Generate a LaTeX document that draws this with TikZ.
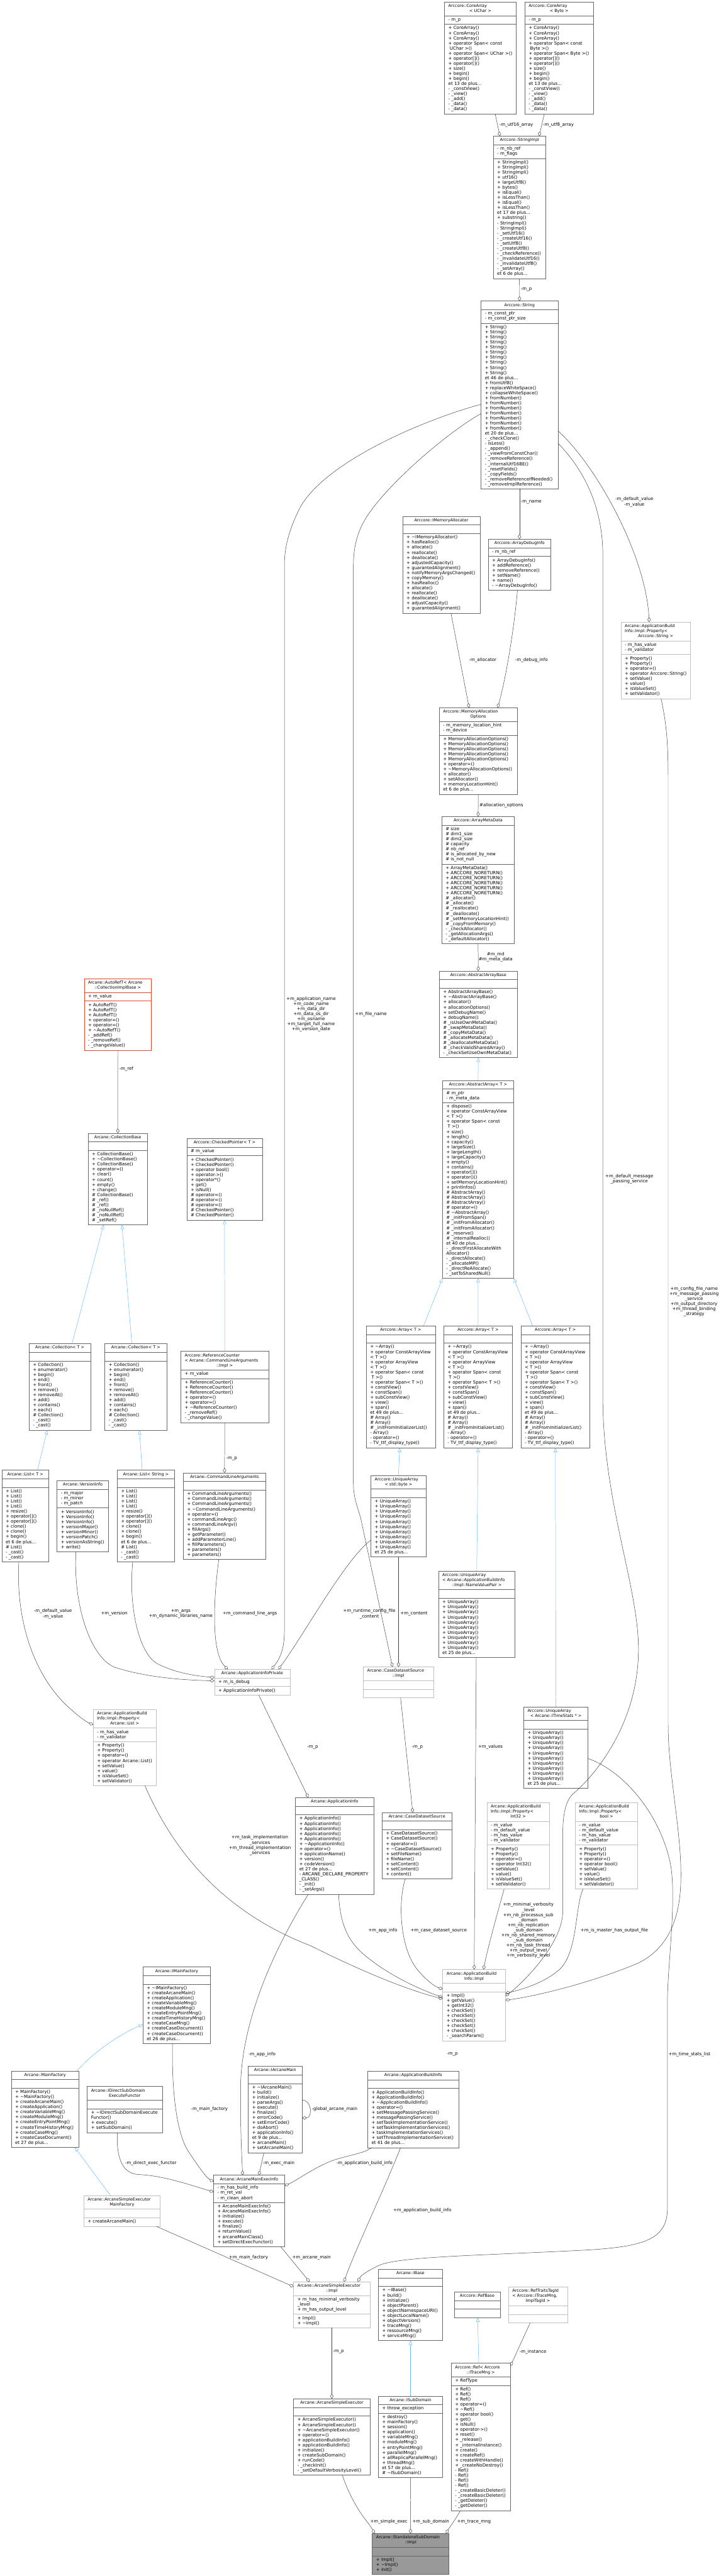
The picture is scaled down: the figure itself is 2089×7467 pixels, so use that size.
\documentclass[tikz,border=0pt]{standalone}
\usepackage{fontspec}
\setmainfont{DejaVu Sans}
\usetikzlibrary{arrows.meta,fit,calc}
\definecolor{edgegray}{HTML}{404040}
\definecolor{inhblue}{HTML}{63B8FF}
\definecolor{bdark}{HTML}{666666}
\definecolor{blight}{HTML}{BFBFBF}
\definecolor{bred}{HTML}{EE4422}
\definecolor{mainfill}{HTML}{999999}
\newlength\umlW
\newcommand\mfont{\fontsize{12.8}{14.68}\selectfont}
\newcommand\tfont{\fontsize{11.8}{14.68}\selectfont}
\newcommand\mL[1]{\hbox to \umlW{\strut#1\hfil}}
\newcommand\mC[1]{\hbox to \umlW{\hfil\strut#1\hfil}}
\newcommand\mE{\hbox to \umlW{\strut\hfil}}
\newcommand\tld{\textasciitilde}
\newcount\umlcnt
\newcommand\mR[2]{\umlcnt=#1\relax\loop\ifnum\umlcnt>0 \mL{#2}\advance\umlcnt by -1 \repeat}
\tikzset{
  umlpart/.style={draw, fill=white, line width=1pt, inner xsep=11.3pt, inner ysep=5.15pt, outer sep=0pt, font=\mfont, text=black},
  cdark/.style={draw=bdark},
  clight/.style={draw=blight},
  cred/.style={draw=bred},
  cmain/.style={draw=bdark, fill=mainfill},
  agg/.style={draw=edgegray, line width=0.9pt, -{Diamond[open,length=14pt,width=9.5pt,line width=0.9pt]}},
  inh/.style={draw=inhblue, line width=0.9pt, -{Triangle[open,length=12pt,width=10pt,line width=0.9pt]}},
  lbl/.style={font=\mfont, inner sep=0pt, align=center, text=black}
}
\newcommand\umlclass[8]{%
  \pgfmathsetlength{\umlW}{#4-22.6}%
  \node[umlpart,#5,font=\tfont,anchor=north west] (#1-t) at (#2,#3) {\vbox{\lineskiplimit=-100pt #6}};
  \node[umlpart,#5,anchor=north west] (#1-a) at (#1-t.south west) {\vbox{\lineskiplimit=-100pt #7}};
  \node[umlpart,#5,anchor=north west] (#1-m) at (#1-a.south west) {\vbox{\lineskiplimit=-100pt #8}};
  \node[fit=(#1-t)(#1-m),inner sep=0pt,outer sep=0pt] (#1) {};
}
\newcommand\corearrM[1]{\mR{3}{+ CoreArray()}\mL{+ operator Span< const}\mL{\ #1 >()}\mL{+ operator Span< #1 >()}\mR{2}{+ operator[]()}\mL{+ size()}\mR{2}{+ begin()}\mL{et 13 de plus...}\mL{- \_constView()}\mL{- \_view()}\mL{- \_add()}\mR{2}{- \_data()}}
\newcommand\arrayM{\mL{+ \tld Array()}\mL{+ operator ConstArrayView}\mL{< T >()}\mL{+ operator ArrayView}\mL{< T >()}\mL{+ operator Span< const}\mL{\ T >()}\mL{+ operator Span< T >()}\mL{+ constView()}\mL{+ constSpan()}\mL{+ subConstView()}\mL{+ view()}\mL{+ span()}\mL{et 49 de plus...}\mR{2}{\# Array()}\mL{\# \_initFromInitializerList()}\mL{- Array()}\mL{- operator=()}\mL{- TV\_ttf\_display\_type()}}
\newcommand\collM{\mL{+ Collection()}\mL{+ enumerator()}\mL{+ begin()}\mL{+ end()}\mL{+ front()}\mL{+ remove()}\mL{+ removeAt()}\mL{+ add()}\mL{+ contains()}\mL{+ each()}\mL{\# Collection()}\mR{2}{- \_cast()}}
\newcommand\listM{\mR{4}{+ List()}\mL{+ resize()}\mR{2}{+ operator[]()}\mR{2}{+ clone()}\mL{+ begin()}\mL{et 6 de plus...}\mL{\# List()}\mR{2}{- \_cast()}}
\newcommand\uaM{\mR{10}{+ UniqueArray()}\mL{et 25 de plus...}}
\newcommand\propM[1]{\mR{2}{+ Property()}\mL{+ operator=()}\mL{+ operator #1()}\mL{+ setValue()}\mL{+ value()}\mL{+ isValueSet()}\mL{+ setValidator()}}
\newcommand\propT[1]{\mL{Arcane::ApplicationBuild}\mL{Info::Impl::Property<}\mC{#1 >}}
\begin{document}
\begin{tikzpicture}[x=1pt,y=-1pt]
\path[use as bounding box, fill=white] (0,0) rectangle (2089,7467);

% ---------------- classes ----------------
\umlclass{cau}{1288}{5.6}{208}{cdark}{\mL{Arccore::CoreArray}\mC{< UChar >}}{\mL{- m\_p}}{\corearrM{UChar}}
\umlclass{cab}{1520.7}{5.6}{198.7}{cdark}{\mL{Arccore::CoreArray}\mC{< Byte >}}{\mL{- m\_p}}{\corearrM{Byte}}
\umlclass{simpl}{1429.3}{394.6}{152}{cdark}{\mC{Arccore::StringImpl}}{\mL{- m\_nb\_ref}\mL{- m\_flags}}{\mR{3}{+ StringImpl()}\mL{+ utf16()}\mL{+ largeUtf8()}\mL{+ bytes()}\mL{+ isEqual()}\mL{+ isLessThan()}\mL{+ isEqual()}\mL{+ isLessThan()}\mL{et 17 de plus...}\mL{+ substring()}\mR{2}{- StringImpl()}\mL{- \_setUtf16()}\mL{- \_createUtf16()}\mL{- \_setUtf8()}\mL{- \_createUtf8()}\mL{- \_checkReference()}\mL{- \_invalidateUtf16()}\mL{- \_invalidateUtf8()}\mL{- \_setArray()}\mL{et 6 de plus...}}
\umlclass{str}{1394}{872.6}{222.7}{cdark}{\mC{Arccore::String}}{\mL{- m\_const\_ptr}\mL{- m\_const\_ptr\_size}}{\mR{10}{+ String()}\mL{et 46 de plus...}\mL{+ fromUtf8()}\mL{+ replaceWhiteSpace()}\mL{+ collapseWhiteSpace()}\mR{7}{+ fromNumber()}\mL{et 20 de plus...}\mL{- \_checkClone()}\mL{- isLess()}\mL{- \_append()}\mL{- \_viewFromConstChar()}\mL{- \_removeReference()}\mL{- \_internalUtf16BE()}\mL{- \_resetFields()}\mL{- \_copyFields()}\mL{- \_removeReferenceIfNeeded()}\mL{- \_removeImplReference()}}
\umlclass{ima}{1166.7}{1496.7}{224}{cdark}{\mC{Arccore::IMemoryAllocator}}{\mE}{\mL{+ \tld IMemoryAllocator()}\mL{+ hasRealloc()}\mL{+ allocate()}\mL{+ reallocate()}\mL{+ deallocate()}\mL{+ adjustedCapacity()}\mL{+ guarantedAlignment()}\mL{+ notifyMemoryArgsChanged()}\mL{+ copyMemory()}\mL{+ hasRealloc()}\mL{+ allocate()}\mL{+ reallocate()}\mL{+ deallocate()}\mL{+ adjustCapacity()}\mL{+ guarantedAlignment()}}
\umlclass{adi}{1414.7}{1562.6}{181.3}{cdark}{\mC{Arccore::ArrayDebugInfo}}{\mL{- m\_nb\_ref}}{\mL{+ ArrayDebugInfo()}\mL{+ addReference()}\mL{+ removeReference()}\mL{+ setName()}\mL{+ name()}\mL{- \tld ArrayDebugInfo()}}
\umlclass{pstr}{1799.3}{1803.2}{201.3}{clight}{\propT{Arccore::String}}{\mL{- m\_has\_value}\mL{- m\_validator}}{\propM{Arccore::String}}
\umlclass{mao}{1272.7}{2051.7}{226}{cdark}{\mL{Arccore::MemoryAllocation}\mC{Options}}{\mL{- m\_memory\_location\_hint}\mL{- m\_device}}{\mR{5}{+ MemoryAllocationOptions()}\mL{+ operator=()}\mL{+ \tld MemoryAllocationOptions()}\mL{+ allocator()}\mL{+ setAllocator()}\mL{+ memoryLocationHint()}\mL{et 6 de plus...}}
\umlclass{amd}{1280}{2366.9}{210.7}{cdark}{\mC{Arccore::ArrayMetaData}}{\mL{\# size}\mL{\# dim1\_size}\mL{\# dim2\_size}\mL{\# capacity}\mL{\# nb\_ref}\mL{\# is\_allocated\_by\_new}\mL{\# is\_not\_null}}{\mL{+ ArrayMetaData()}\mR{5}{+ ARCCORE\_NORETURN()}\mL{\# \_allocator()}\mL{\# \_allocate()}\mL{\# \_reallocate()}\mL{\# \_deallocate()}\mL{\# \_setMemoryLocationHint()}\mL{\# \_copyFromMemory()}\mL{- \_checkAllocator()}\mL{- \_getAllocationArgs()}\mL{- \_defaultAllocator()}}
\umlclass{aab}{1272.7}{2814.7}{226}{cdark}{\mC{Arccore::AbstractArrayBase}}{\mE}{\mL{+ AbstractArrayBase()}\mL{+ \tld AbstractArrayBase()}\mL{+ allocator()}\mL{+ allocationOptions()}\mL{+ setDebugName()}\mL{+ debugName()}\mL{\# \_isUseOwnMetaData()}\mL{\# \_swapMetaData()}\mL{\# \_copyMetaData()}\mL{\# \_allocateMetaData()}\mL{\# \_deallocateMetaData()}\mL{\# \_checkValidSharedArray()}\mL{- \_checkSetUseOwnMetaData()}}
\umlclass{aa}{1282}{3131.6}{206.7}{cdark}{\mC{Arccore::AbstractArray< T >}}{\mL{\# m\_ptr}\mL{- m\_meta\_data}}{\mL{+ dispose()}\mL{+ operator ConstArrayView}\mL{< T >()}\mL{+ operator Span< const}\mL{\ T >()}\mL{+ size()}\mL{+ length()}\mL{+ capacity()}\mL{+ largeSize()}\mL{+ largeLength()}\mL{+ largeCapacity()}\mL{+ empty()}\mL{+ contains()}\mL{+ operator[]()}\mL{+ operator()()}\mL{+ setMemoryLocationHint()}\mL{+ printInfos()}\mR{3}{\# AbstractArray()}\mL{\# operator=()}\mL{\# \tld AbstractArray()}\mL{\# \_initFromSpan()}\mR{2}{\# \_initFromAllocator()}\mL{\# \_reserve()}\mL{\# \_internalRealloc()}\mL{et 40 de plus...}\mL{- \_directFirstAllocateWith}\mL{Allocator()}\mL{- \_directAllocate()}\mL{- \_allocateMP()}\mL{- \_directReAllocate()}\mL{- \_setToSharedNull()}}
\umlclass{aref}{244}{2837}{194.7}{cred}{\mL{Arcane::AutoRefT< Arcane}\mC{::CollectionImplBase >}}{\mL{+ m\_value}}{\mR{3}{+ AutoRefT()}\mR{2}{+ operator=()}\mL{+ \tld AutoRefT()}\mL{- \_addRef()}\mL{- \_removeRef()}\mL{- \_changeValue()}}
\umlclass{cb}{255.3}{3284.8}{172}{cdark}{\mC{Arcane::CollectionBase}}{\mE}{\mL{+ CollectionBase()}\mL{+ \tld CollectionBase()}\mL{+ CollectionBase()}\mL{+ operator=()}\mL{+ clear()}\mL{+ count()}\mL{+ empty()}\mL{+ change()}\mL{\# CollectionBase()}\mR{2}{\# \_ref()}\mR{2}{\# \_noNullRef()}\mL{\# \_setRef()}}
\umlclass{cp}{541.3}{3299.9}{218.7}{cdark}{\mC{Arccore::CheckedPointer< T >}}{\mL{\# m\_value}}{\mR{2}{+ CheckedPointer()}\mL{+ operator bool()}\mL{+ operator->()}\mL{+ operator*()}\mL{+ get()}\mL{+ isNull()}\mR{3}{\# operator=()}\mR{2}{\# CheckedPointer()}}
\umlclass{col1}{84}{3894.6}{178.7}{cdark}{\mC{Arcane::Collection< T >}}{\mE}{\collM}
\umlclass{col2}{304}{3894.6}{178.7}{cdark}{\mC{Arcane::Collection< T >}}{\mE}{\collM}
\umlclass{rc}{524}{3916.8}{254}{cdark}{\mL{Arccore::ReferenceCounter}\mL{< Arcane::CommandLineArguments}\mC{::Impl >}}{\mL{+ m\_value}}{\mR{3}{+ ReferenceCounter()}\mR{2}{+ operator=()}\mL{+ \tld ReferenceCounter()}\mL{- \_removeRef()}\mL{- \_changeValue()}}
\umlclass{arr1}{1061.3}{3843}{200}{cdark}{\mC{Arccore::Array< T >}}{\mE}{\arrayM}
\umlclass{arr2}{1285.3}{3843}{200}{cdark}{\mC{Arccore::Array< T >}}{\mE}{\arrayM}
\umlclass{arr3}{1509.3}{3843}{200}{cdark}{\mC{Arccore::Array< T >}}{\mE}{\arrayM}
\umlclass{lt}{5.3}{4261.4}{136}{cdark}{\mC{Arcane::List< T >}}{\mE}{\listM}
\umlclass{vi}{165.3}{4291.6}{149.3}{cdark}{\mC{Arcane::VersionInfo}}{\mL{- m\_major}\mL{- m\_minor}\mL{- m\_patch}}{\mR{3}{+ VersionInfo()}\mL{+ versionMajor()}\mL{+ versionMinor()}\mL{+ versionPatch()}\mL{+ versionAsString()}\mL{+ write()}}
\umlclass{ls}{339.3}{4261.4}{166.7}{cdark}{\mC{Arcane::List< String >}}{\mE}{\listM}
\umlclass{cla}{530.7}{4269.4}{240}{cdark}{\mC{Arcane::CommandLineArguments}}{\mE}{\mR{3}{+ CommandLineArguments()}\mL{+ \tld CommandLineArguments()}\mL{+ operator=()}\mL{+ commandLineArgc()}\mL{+ commandLineArgv()}\mL{+ fillArgs()}\mL{+ getParameter()}\mL{+ addParameterLine()}\mL{+ fillParameters()}\mR{2}{+ parameters()}}
\umlclass{uab}{1074.7}{4276.5}{160}{cdark}{\mL{Arccore::UniqueArray}\mC{< std::byte >}}{\mE}{\uaM}
\umlclass{unvp}{1270.7}{4553.6}{221.3}{cdark}{\mL{Arccore::UniqueArray}\mL{< Arcane::ApplicationBuildInfo}\mC{::Impl::NameValuePair >}}{\mE}{\uaM}
\umlclass{aip}{621.3}{4838.7}{218.7}{clight}{\mC{Arcane::ApplicationInfoPrivate}}{\mL{+ m\_is\_debug}}{\mL{+ ApplicationInfoPrivate()}}
\umlclass{cdsi}{1052.7}{4831.5}{203.3}{clight}{\mL{Arcane::CaseDatasetSource}\mC{::Impl}}{\mE}{\mE}
\umlclass{plist}{270}{4954.6}{182.7}{clight}{\propT{Arcane::List}}{\mL{- m\_has\_value}\mL{- m\_validator}}{\propM{Arcane::List}}
\umlclass{uts}{1517.3}{4947.4}{186.7}{cdark}{\mL{Arccore::UniqueArray}\mC{< Arcane::ITimeStats * >}}{\mE}{\uaM}
\umlclass{ai}{856}{5210.3}{226.7}{cdark}{\mC{Arcane::ApplicationInfo}}{\mE}{\mR{5}{+ ApplicationInfo()}\mL{+ \tld ApplicationInfo()}\mL{+ operator=()}\mL{+ applicationName()}\mL{+ version()}\mL{+ codeVersion()}\mL{et 27 de plus...}\mL{- ARCANE\_DECLARE\_PROPERTY}\mL{\_CLASS()}\mL{- \_init()}\mL{- \_setArgs()}}
\umlclass{cds}{1106.7}{5253.9}{202.7}{cdark}{\mC{Arcane::CaseDatasetSource}}{\mE}{\mR{2}{+ CaseDatasetSource()}\mL{+ operator=()}\mL{+ \tld CaseDatasetSource()}\mL{+ setFileName()}\mL{+ fileName()}\mR{2}{+ setContent()}\mL{+ content()}}
\umlclass{pint}{1410.7}{5224.6}{181.3}{clight}{\propT{Int32}}{\mL{- m\_value}\mL{- m\_default\_value}\mL{- m\_has\_value}\mL{- m\_validator}}{\propM{Int32}}
\umlclass{pbool}{1666.7}{5224.6}{181.3}{clight}{\propT{bool}}{\mL{- m\_value}\mL{- m\_default\_value}\mL{- m\_has\_value}\mL{- m\_validator}}{\propM{bool}}
\umlclass{imf}{414}{5701.7}{196}{cdark}{\mC{Arcane::IMainFactory}}{\mE}{\mL{+ \tld IMainFactory()}\mL{+ createArcaneMain()}\mL{+ createApplication()}\mL{+ createVariableMng()}\mL{+ createModuleMng()}\mL{+ createEntryPointMng()}\mL{+ createTimeHistoryMng()}\mL{+ createCaseMng()}\mR{2}{+ createCaseDocument()}\mL{et 26 de plus...}}
\umlclass{abii}{1282.7}{5708.9}{182}{clight}{\mL{Arcane::ApplicationBuild}\mC{Info::Impl}}{\mE}{\mL{+ Impl()}\mL{+ getValue()}\mL{+ getInt32()}\mR{5}{+ checkSet()}\mL{- \_searchParam()}}
\umlclass{mf}{32.7}{6002.7}{196}{cdark}{\mC{Arcane::MainFactory}}{\mE}{\mL{+ MainFactory()}\mL{+ \tld MainFactory()}\mL{+ createArcaneMain()}\mL{+ createApplication()}\mL{+ createVariableMng()}\mL{+ createModuleMng()}\mL{+ createEntryPointMng()}\mL{+ createTimeHistoryMng()}\mL{+ createCaseMng()}\mL{+ createCaseDocument()}\mL{et 27 de plus...}}
\umlclass{idsd}{252.7}{6048}{217.3}{cdark}{\mL{Arcane::IDirectSubDomain}\mC{ExecuteFunctor}}{\mE}{\mL{+ \tld IDirectSubDomainExecute}\mL{Functor()}\mL{+ execute()}\mL{+ setSubDomain()}}
\umlclass{iam}{719.3}{5989.2}{156}{cdark}{\mC{Arcane::IArcaneMain}}{\mE}{\mL{+ \tld IArcaneMain()}\mL{+ build()}\mL{+ initialize()}\mL{+ parseArgs()}\mL{+ execute()}\mL{+ finalize()}\mL{+ errorCode()}\mL{+ setErrorCode()}\mL{+ doAbort()}\mL{+ applicationInfo()}\mL{et 9 de plus...}\mL{+ arcaneMain()}\mL{+ setArcaneMain()}}
\umlclass{abi}{1065.3}{6003.5}{264}{cdark}{\mC{Arcane::ApplicationBuildInfo}}{\mE}{\mR{2}{+ ApplicationBuildInfo()}\mL{+ \tld ApplicationBuildInfo()}\mL{+ operator=()}\mL{+ setMessagePassingService()}\mL{+ messagePassingService()}\mL{+ setTaskImplementationService()}\mL{+ setTaskImplementationServices()}\mL{+ taskImplementationServices()}\mL{+ setThreadImplementationService()}\mL{et 41 de plus...}}
\umlclass{asemf}{242.7}{6364}{221.3}{clight}{\mL{Arcane::ArcaneSimpleExecutor}\mC{MainFactory}}{\mE}{\mL{+ createArcaneMain()}}
\umlclass{amei}{618.7}{6305.2}{206}{cdark}{\mC{Arcane::ArcaneMainExecInfo}}{\mL{- m\_has\_build\_info}\mL{- m\_ret\_val}\mL{- m\_clean\_abort}}{\mR{2}{+ ArcaneMainExecInfo()}\mL{+ initialize()}\mL{+ execute()}\mL{+ finalize()}\mL{+ returnValue()}\mL{+ arcaneMainClass()}\mL{+ setDirectExecFunctor()}}
\umlclass{asei}{850.7}{6614}{221.3}{clight}{\mL{Arcane::ArcaneSimpleExecutor}\mC{::Impl}}{\mL{+ m\_has\_minimal\_verbosity}\mL{\_level}\mL{+ m\_has\_output\_level}}{\mL{+ Impl()}\mL{+ \tld Impl()}}
\umlclass{ase}{850.7}{6953}{221.3}{cdark}{\mC{Arcane::ArcaneSimpleExecutor}}{\mE}{\mR{2}{+ ArcaneSimpleExecutor()}\mL{+ \tld ArcaneSimpleExecutor()}\mL{+ operator=()}\mR{2}{+ applicationBuildInfo()}\mL{+ initialize()}\mL{+ createSubDomain()}\mL{+ runCode()}\mL{- \_checkInit()}\mL{- \_setDefaultVerbosityLevel()}}
\umlclass{ibase}{1096}{6577.5}{186.7}{cdark}{\mC{Arcane::IBase}}{\mE}{\mL{+ \tld IBase()}\mL{+ build()}\mL{+ initialize()}\mL{+ objectParent()}\mL{+ objectNamespaceURI()}\mL{+ objectLocalName()}\mL{+ objectVersion()}\mL{+ traceMng()}\mL{+ ressourceMng()}\mL{+ serviceMng()}}
\umlclass{isd}{1096}{6945.2}{186.7}{cdark}{\mC{Arcane::ISubDomain}}{\mL{+ throw\_exception}}{\mL{+ destroy()}\mL{+ mainFactory()}\mL{+ session()}\mL{+ application()}\mL{+ variableMng()}\mL{+ moduleMng()}\mL{+ entryPointMng()}\mL{+ parallelMng()}\mL{+ allReplicaParallelMng()}\mL{+ threadMng()}\mL{et 57 de plus...}\mL{\# \tld ISubDomain()}}
\umlclass{rb}{1316}{6643.4}{133.3}{cdark}{\mC{Arccore::RefBase}}{\mE}{\mE}
\umlclass{rtt}{1473.3}{6629.1}{170.7}{clight}{\mL{Arccore::RefTraitsTagId}\mL{< Arccore::ITraceMng,}\mC{ImplTagId >}}{\mE}{\mE}
\umlclass{ref}{1307.3}{6849.9}{172}{cdark}{\mL{Arccore::Ref< Arccore}\mC{::ITraceMng >}}{\mL{+ RefType}}{\mR{3}{+ Ref()}\mL{+ operator=()}\mL{+ \tld Ref()}\mL{+ operator bool()}\mL{+ get()}\mL{+ isNull()}\mL{+ operator->()}\mL{+ reset()}\mL{+ \_release()}\mL{+ \_internalInstance()}\mL{+ create()}\mL{+ createRef()}\mL{+ createWithHandle()}\mL{+ \_createNoDestroy()}\mR{4}{- Ref()}\mR{2}{- \_createBasicDeleter()}\mR{2}{- \_getDeleter()}}
\umlclass{ssdi}{1078.7}{7343.7}{222}{cmain}{\mL{Arcane::StandaloneSubDomain}\mC{::Impl}}{\mE}{\mL{+ Impl()}\mL{+ \tld Impl()}\mL{+ init()}}

% ---------------- aggregation edges ----------------
\draw[agg] ($(cau.south west)+(146.7,0)$) -- ($(simpl.north west)+(19.4,0)$);
\draw[agg] ($(cab.south west)+(56.6,0)$) -- ($(simpl.north west)+(132.7,0)$);
\draw[agg] (simpl.south) -- (str.north);
\draw[agg] (str.south) -- (adi.north);
\draw[agg] ($(str.north east)+(0,376.4)$) .. controls (1720,1340) and (1870,1600) .. ($(pstr.north west)+(82,0)$);
\draw[agg] ($(str.north east)+(0,412.1)$) .. controls (1700,1370) and (1746.7,1480) .. (1746.7,1610) -- (1746.7,4050) .. controls (1746.7,4350) and (1850,4600) .. (1850,4780) .. controls (1850,5000) and (1720,5150) .. (1660,5200) .. controls (1635,5225) and (1630.7,5270) .. (1630.7,5320) -- (1630.7,5540) .. controls (1630.7,5640) and (1500,5760) .. ($(abii.north east)+(0,77)$);
\draw[agg] ($(str.north west)+(0,299.4)$) .. controls (1250,1210) and (950,1330) .. (870,1470) .. controls (835,1540) and (824,1590) .. (824,1640) -- (824,4730) .. controls (824,4790) and (805,4815) .. ($(aip.north west)+(165.4,0)$);
\draw[agg] ($(str.north west)+(0,326.4)$) .. controls (1300,1250) and (1100,1420) .. (1050,1520) .. controls (1030,1560) and (1024,1600) .. (1024,1640) -- (1024,4300) .. controls (1024,4340) and (1035,4365) .. (1045,4400) -- ($(cdsi.north west)+(84.6,0)$);
\draw[agg] ($(uab.north west)+(0,187.5)$) .. controls (1000,4520) and (880,4740) .. ($(aip.north west)+(185.4,0)$);
\draw[agg] ($(vi.south west)+(54.7,0)$) .. controls (212,4650) and (260,4800) .. (330,4832) .. controls (420,4862) and (530,4870) .. ($(aip.north west)+(0,33.3)$);
\draw[agg] ($(ls.south west)+(45.4,0)$) .. controls (372,4650) and (400,4790) .. (455,4822) .. controls (505,4848) and (560,4857) .. ($(aip.north west)+(0,23.8)$);
\draw[agg] ($(cla.south west)+(103.3,0)$) .. controls (618,4640) and (612,4790) .. ($(aip.north west)+(38.7,0)$);
\draw[agg] ($(lt.south west)+(49.4,0)$) .. controls (45,4700) and (100,4860) .. (200,4950) .. controls (228,4975) and (248,4990) .. ($(plist.north west)+(0,45.3)$);
\draw[agg] ($(aip.south west)+(128.7,0)$) -- ($(ai.north west)+(37.3,0)$);
\draw[agg] (uab.south) -- ($(cdsi.north west)+(102,0)$);
\draw[agg] ($(cdsi.south west)+(108,0)$) -- ($(cds.north west)+(89.3,0)$);
\draw[agg] ($(unvp.south west)+(109.3,0)$) -- ($(abii.north west)+(91.3,0)$);
\draw[agg] ($(pint.south west)+(50,0)$) .. controls (1440,5550) and (1415,5640) .. ($(abii.north west)+(118,0)$);
\draw[agg] ($(pbool.south west)+(22.6,0)$) .. controls (1665,5530) and (1675,5660) .. (1620,5710) .. controls (1580,5745) and (1520,5765) .. ($(abii.north east)+(0,69)$);
\draw[agg] ($(pstr.south west)+(116,0)$) .. controls (1930,2090) and (1936,2150) .. (1936,2250) -- (1936,5000) .. controls (1936,5150) and (1980,5330) .. (1972,5470) .. controls (1965,5600) and (1910,5660) .. (1850,5690) .. controls (1720,5745) and (1560,5785) .. ($(abii.north east)+(0,89)$);
\draw[agg] ($(uts.north east)+(0,150.1)$) .. controls (1800,5130) and (1910,5250) .. (1942,5400) .. controls (1962,5500) and (1934,5700) .. (1934,5800) -- (1934,6400) .. controls (1934,6490) and (1870,6512) .. (1700,6522) .. controls (1400,6538) and (1150,6540) .. (1095,6568) .. controls (1062,6584) and (1046,6596) .. ($(asei.north west)+(186,0)$);
\draw[agg] ($(cds.south west)+(67.3,0)$) .. controls (1152,5520) and (1160,5650) .. (1210,5710) .. controls (1235,5740) and (1258,5757) .. ($(abii.north west)+(0,57)$);
\draw[agg] ($(ai.south west)+(125.3,0)$) .. controls (985,5580) and (1010,5630) .. (1060,5670) .. controls (1120,5720) and (1200,5760) .. ($(abii.north west)+(0,81)$);
\draw[agg] ($(plist.south west)+(150,0)$) .. controls (500,5360) and (640,5540) .. (900,5640) .. controls (1050,5715) and (1180,5768) .. ($(abii.north west)+(0,85)$);
\draw[agg] ($(ai.south west)+(37.3,0)$) .. controls (800,5640) and (700,5850) .. (697,6050) .. controls (696,6150) and (700,6250) .. ($(amei.north west)+(84.6,0)$);
\draw[agg] ($(imf.south west)+(86,0)$) .. controls (497,6050) and (510,6180) .. (545,6235) .. controls (570,6272) and (595,6310) .. ($(amei.north west)+(0,18.8)$);
\draw[agg] ($(idsd.south west)+(87.3,0)$) .. controls (337,6245) and (350,6300) .. (400,6303) .. controls (470,6306) and (540,6330) .. ($(amei.north west)+(0,48.4)$);
\draw[agg] ($(iam.south west)+(45.4,0)$) -- ($(amei.north west)+(131.3,0)$);
\draw[agg] ($(abi.south west)+(12,0)$) .. controls (1050,6245) and (990,6250) .. (950,6268) .. controls (900,6290) and (860,6320) .. ($(amei.north east)+(0,30.8)$);
\draw[agg] ($(abi.south west)+(95.4,0)$) .. controls (1120,6330) and (1030,6520) .. ($(asei.north west)+(146,0)$);
\draw[agg] ($(asemf.south west)+(210.6,0)$) -- ($(asei.north west)+(0,14.4)$);
\draw[agg] ($(amei.south west)+(194.6,0)$) -- ($(asei.north west)+(46,0)$);
\draw[agg] (asei.south) -- (ase.north);
\draw[agg] ($(ase.south west)+(141.3,0)$) .. controls (1010,7230) and (1040,7280) .. (1060,7305) .. controls (1072,7320) and (1080,7333) .. ($(ssdi.north west)+(6.6,0)$);
\draw[agg] (isd.south) -- (ssdi.north);
\draw[agg] ($(ref.south west)+(26.7,0)$) .. controls (1322,7300) and (1305,7322) .. ($(ssdi.north west)+(213.3,0)$);
\draw[agg] ($(rtt.south west)+(62.7,0)$) -- ($(ref.north east)+(0,7.9)$);
\draw[agg] ($(iam.north east)+(0,98.4)$) .. controls (905,6087) and (905,6139) .. ($(iam.north east)+(0,150)$);
\draw[agg] (rc.south) -- (cla.north);
\draw[agg] (aref.south) -- (cb.north);
\draw[agg] ($(ima.south west)+(140,0)$) -- ($(mao.north west)+(86.6,0)$);
\draw[agg] ($(adi.south west)+(84.6,0)$) .. controls (1492,1800) and (1470,1950) .. ($(mao.north west)+(169.3,0)$);
\draw[agg] (mao.south) -- (amd.north);
\draw[agg] (amd.south) -- (aab.north);

% ---------------- inheritance edges ----------------
\draw[inh] (aa.north) -- (aab.south);
\draw[inh] ($(arr1.north west)+(166,0)$) -- (aa.south west);
\draw[inh] (arr2.north) -- (aa.south);
\draw[inh] ($(arr3.north west)+(34,0)$) -- (aa.south east);
\draw[inh] (uab.north) -- ($(arr1.south west)+(96.7,0)$);
\draw[inh] (unvp.north) -- (arr2.south);
\draw[inh] (uts.north) -- (arr3.south);
\draw[inh] ($(col1.north west)+(124.7,0)$) -- ($(cb.south west)+(44.7,0)$);
\draw[inh] ($(col2.north west)+(78,0)$) -- ($(cb.south west)+(98,0)$);
\draw[inh] (rc.north) -- (cp.south);
\draw[inh] ($(lt.north west)+(103.4,0)$) -- ($(col1.south west)+(52.7,0)$);
\draw[inh] ($(ls.north west)+(72.7,0)$) -- ($(col2.south west)+(100,0)$);
\draw[inh] ($(mf.north west)+(190.6,0)$) .. controls (260,5960) and (330,5905) .. ($(imf.north west)+(0,166)$);
\draw[inh] ($(asemf.north west)+(77.3,0)$) -- ($(mf.south west)+(184,0)$);
\draw[inh] (isd.north) -- (ibase.south);
\draw[inh] ($(ref.north west)+(80,0)$) -- ($(rb.south west)+(68,0)$);

% ---------------- labels ----------------
\node[lbl,anchor=west] (l1) at (1447,362) {-m\_utf16\_array};
\node[lbl,anchor=west] (l2) at (1573,362) {-m\_utf8\_array};
\node[lbl,anchor=west] (l3) at (1509,839) {-m\_p};
\node[lbl,anchor=west] (l4) at (1509,1456) {-m\_name};
\node[lbl] (l5) at (1838,1455) {-m\_default\_value\\-m\_value};
\node[lbl,anchor=west] (l6) at (1359,1913.5) {-m\_allocator};
\node[lbl,anchor=west] (l7) at (1492.7,1913.5) {-m\_debug\_info};
\node[lbl,anchor=west] (l8) at (1389.3,2334.4) {\#allocation\_options};
\node[lbl] (l9) at (1436,2774) {\#m\_md\\\#m\_meta\_data};
\node[lbl,anchor=west] (l10) at (345.3,3098) {-m\_ref};
\node[lbl] (l11) at (901.3,2940) {+m\_application\_name\\+m\_code\_name\\+m\_data\_dir\\+m\_data\_os\_dir\\+m\_osname\\+m\_target\_full\_name\\+m\_version\_date};
\node[lbl,anchor=west] (l12) at (1028.7,2940.2) {+m\_file\_name};
\node[lbl] (l13) at (1823.3,3417.5) {+m\_default\_message\\\_passing\_service};
\node[lbl] (l14) at (2011,3773) {+m\_config\_file\_name\\+m\_message\_passing\\\_service\\+m\_output\_directory\\+m\_thread\_binding\\\_strategy};
\node[lbl,anchor=west] (l15) at (655.3,4229) {-m\_p};
\node[lbl] (l16) at (153.3,4678) {-m\_default\_value\\-m\_value};
\node[lbl] (l17) at (331,4678) {+m\_version};
\node[lbl] (l18) at (523.7,4678) {+m\_args\\+m\_dynamic\_libraries\_name};
\node[lbl] (l19) at (724,4678) {+m\_command\_line\_args};
\node[lbl] (l20) at (1070,4678) {+m\_runtime\_config\_file\\\_content};
\node[lbl,anchor=west] (l21) at (1160,4678) {+m\_content};
\node[lbl,anchor=west] (l22) at (890,5064) {-m\_p};
\node[lbl,anchor=west] (l23) at (1193.3,5064) {-m\_p};
\node[lbl,anchor=west] (l24) at (1385.3,5064) {+m\_values};
\node[lbl] (l25) at (753,5349) {+m\_task\_implementation\\\_services\\+m\_thread\_implementation\\\_services};
\node[lbl] (l26) at (1109,5595.4) {+m\_app\_info};
\node[lbl] (l27) at (1271,5595.4) {+m\_case\_dataset\_source};
\node[lbl] (l28) at (1530.7,5595.4) {+m\_minimal\_verbosity\\\_level\\+m\_nb\_processus\_sub\\\_domain\\+m\_nb\_replication\\\_sub\_domain\\+m\_nb\_shared\_memory\\\_sub\_domain\\+m\_nb\_task\_thread\\+m\_output\_level\\+m\_verbosity\_level};
\node[lbl] (l29) at (1780,5595.4) {+m\_is\_master\_has\_output\_file};
\node[lbl,anchor=west] (l30) at (720,5955) {-m\_app\_info};
\node[lbl,anchor=west] (l31) at (1294.7,5955) {-m\_p};
\node[lbl,anchor=west] (l32) at (1937,5955) {+m\_time\_stats\_list};
\node[lbl] (l33) at (606.7,6113) {-m\_main\_factory};
\node[lbl,anchor=west] (l34) at (903.3,6113) {-global\_arcane\_main};
\node[lbl] (l35) at (437,6271) {-m\_direct\_exec\_functor};
\node[lbl,anchor=west] (l36) at (761.3,6271) {-m\_exec\_main};
\node[lbl] (l37) at (1056,6271) {-m\_application\_build\_info};
\node[lbl] (l38) at (1223.7,6407.6) {+m\_application\_build\_info};
\node[lbl] (l39) at (720,6544) {+m\_main\_factory};
\node[lbl,anchor=west] (l40) at (846.7,6544) {+m\_arcane\_main};
\node[lbl,anchor=west] (l41) at (964.7,6816.5) {-m\_p};
\node[lbl,anchor=west] (l42) at (1505.3,6816.5) {-m\_instance};
\node[lbl] (l43) at (1127,7309.6) {+m\_simple\_exec};
\node[lbl] (l44) at (1248,7309.6) {+m\_sub\_domain};
\node[lbl] (l45) at (1373.3,7309.6) {+m\_trace\_mng};
\end{tikzpicture}
\end{document}
